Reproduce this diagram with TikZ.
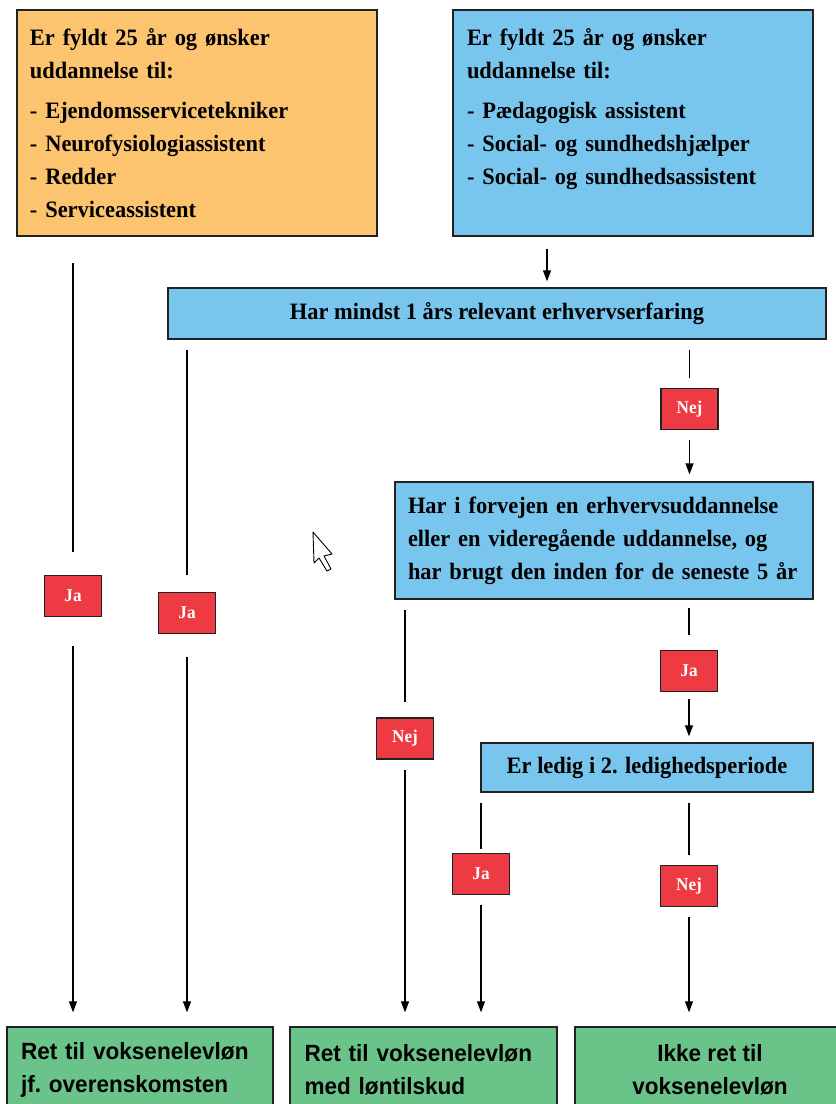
\documentclass[tikz,border=0pt]{standalone}
\usepackage{fontspec}
\setmainfont[FakeStretch = 0.955]{Liberation Serif}
\newfontfamily\resultfont[FakeStretch = 0.96]{Liberation Sans}
\usetikzlibrary{arrows.meta}

\definecolor{boxorange}{HTML}{FDC470}
\definecolor{boxblue}{HTML}{78C5EE}
\definecolor{boxgreen}{HTML}{6AC389}
\definecolor{tagred}{HTML}{EE3A42}
\definecolor{edgegray}{HTML}{222222}

\begin{document}
\begin{tikzpicture}[
        x = 1pt,
        y = -1pt,
        infobox/.style = {draw = edgegray, line width = 1.4pt, inner sep = 0pt, align = left,
            font = \bfseries\fontsize{23.5}{33}\selectfont},
        resultbox/.style = {draw = edgegray, line width = 1.4pt, inner sep = 0pt, fill = boxgreen,
            minimum height = 86pt, font = \resultfont\bfseries\fontsize{23.5}{33}\selectfont},
        tag/.style = {draw = edgegray, line width = 1.3pt, fill = tagred, text = white,
            minimum width = 57pt, minimum height = 41pt, inner sep = 0pt,
            font = \bfseries\fontsize{18}{18}\selectfont},
        link/.style = {line width = 1.3pt},
        arr/.style = {link, -{Triangle[length = 11pt, width = 8pt]}}
    ]
        \useasboundingbox (0, 0) rectangle (836, 1104);

        % top boxes
        \node[infobox, fill = boxorange, minimum width = 360pt, minimum height = 226pt, text width = 334pt]
            (orange) at (197, 123) {Er fyldt 25 år og ønsker\\ uddannelse til:\\[7pt]
            - Ejendomsservicetekniker\\ - Neurofysiologiassistent\\ - Redder\\ - Serviceassistent};
        \node[infobox, fill = boxblue, minimum width = 360pt, minimum height = 226pt, text width = 332pt]
            (blue) at (633, 123) {Er fyldt 25 år og ønsker\\ uddannelse til:\\[7pt]
            - Pædagogisk assistent\\ - Social- og sundhedshjælper\\ - Social- og sundhedsassistent\\ \mbox{}};

        % questions
        \node[infobox, fill = boxblue, minimum width = 658pt, minimum height = 51pt, align = center]
            (mindst) at (497, 313.5) {Har mindst 1 års relevant erhvervserfaring};
        \node[infobox, fill = boxblue, minimum width = 418pt, minimum height = 117pt, text width = 392pt]
            (forvejen) at (604, 540.5) {Har i forvejen en erhvervsuddannelse\\ eller en videregående uddannelse, og\\
            har brugt den inden for de seneste 5 år};
        \node[infobox, fill = boxblue, minimum width = 332pt, minimum height = 49pt, align = center]
            (ledig) at (647, 767.5) {Er ledig i 2. ledighedsperiode};

        % results
        \node[resultbox, minimum width = 266pt, text width = 238pt, align = left]
            (res1) at (140, 1070) {Ret til voksenelevløn\\ jf.\ overenskomsten};
        \node[resultbox, minimum width = 267pt, text width = 238pt, align = left]
            (res2) at (423.5, 1070) {Ret til voksenelevløn\\ med løntilskud};
        \node[resultbox, minimum width = 270pt, align = center]
            (res3) at (710, 1070) {Ikke ret til\\ voksenelevløn};

        % answers
        \node[tag] (ja1) at (73, 596) {Ja};
        \node[tag] (ja2) at (187, 613) {Ja};
        \node[tag] (nej1) at (689.5, 409) {Nej};
        \node[tag] (nej2) at (405, 738.5) {Nej};
        \node[tag] (ja3) at (689, 671) {Ja};
        \node[tag] (ja4) at (481, 874) {Ja};
        \node[tag] (nej3) at (689, 886) {Nej};

        \coordinate (top) at (547, 0);

        % connectors
        \draw[arr, shorten <= 12pt, shorten >= 6pt] (top |- blue.south) -- (top |- mindst.north);

        \draw[link, shorten <= 26pt, shorten >= 23pt] (ja1 |- orange.south) -- (ja1.north);
        \draw[arr, shorten <= 29pt, shorten >= 14pt] (ja1.south) -- (ja1 |- res1.north);

        \draw[link, shorten <= 10pt, shorten >= 17pt] (ja2 |- mindst.south) -- (ja2.north);
        \draw[arr, shorten <= 23pt, shorten >= 14pt] (ja2.south) -- (ja2 |- res1.north);

        \draw[link, shorten <= 10pt, shorten >= 10pt] (nej1 |- mindst.south) -- (nej1.north);
        \draw[arr, shorten <= 10pt, shorten >= 7pt] (nej1.south) -- (nej1 |- forvejen.north);

        \draw[link, shorten <= 10pt, shorten >= 15pt] (nej2 |- forvejen.south) -- (nej2.north);
        \draw[arr, shorten <= 10pt, shorten >= 14pt] (nej2.south) -- (nej2 |- res2.north);

        \draw[link, shorten <= 8pt, shorten >= 15pt] (ja3 |- forvejen.south) -- (ja3.north);
        \draw[arr, shorten <= 7pt, shorten >= 6pt] (ja3.south) -- (ja3 |- ledig.north);

        \draw[link, shorten <= 10pt, shorten >= 4pt] (ja4 |- ledig.south) -- (ja4.north);
        \draw[arr, shorten <= 10pt, shorten >= 14pt] (ja4.south) -- (ja4 |- res2.north);

        \draw[link, shorten <= 10pt, shorten >= 10pt] (nej3 |- ledig.south) -- (nej3.north);
        \draw[arr, shorten <= 10pt, shorten >= 14pt] (nej3.south) -- (nej3 |- res3.north);

        % mouse pointer
        \draw[fill = white, line width = .9pt, line join = round]
            (313, 532) -- (314, 563) -- (319, 558) -- (327, 571) -- (331, 569)
            -- (324, 556) -- (332, 554) -- cycle;
    \end{tikzpicture}
\end{document}
